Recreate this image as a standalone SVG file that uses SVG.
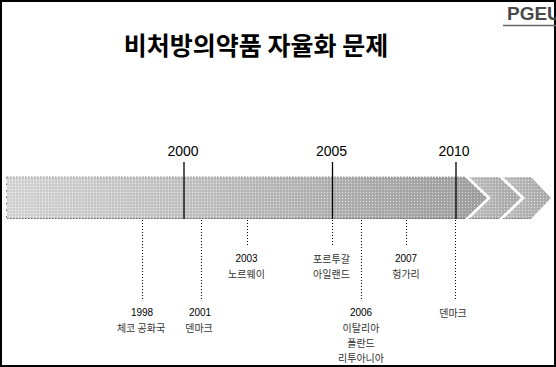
<svg xmlns="http://www.w3.org/2000/svg" width="556" height="367" viewBox="0 0 556 367">
<defs>
<linearGradient id="gMain" x1="0" y1="0" x2="1" y2="0">
<stop offset="0" stop-color="#d8d8d8"/>
<stop offset="0.35" stop-color="#c6c6c6"/>
<stop offset="1" stop-color="#a0a0a0"/>
</linearGradient>
<linearGradient id="gChev" x1="0" y1="0" x2="1" y2="0">
<stop offset="0" stop-color="#c2c2c2"/>
<stop offset="1" stop-color="#ababab"/>
</linearGradient>
<pattern id="dots" width="3" height="3" patternUnits="userSpaceOnUse">
<rect x="0" y="0" width="1" height="1" fill="#ffffff" fill-opacity="0.55"/>
<rect x="1.5" y="1.5" width="1" height="1" fill="#606060" fill-opacity="0.3"/>
</pattern>
<style>
.frame{fill:#fff;stroke:#000;stroke-width:2}
.title{font-family:"Noto Sans CJK KR","Noto Sans",sans-serif;font-weight:bold;font-size:25px;fill:#000;text-anchor:middle}
.logo{font-family:"Liberation Sans",Arial,sans-serif;font-weight:bold;font-size:19px;fill:#4a4a4a}
.year{font-family:"Liberation Sans",Arial,sans-serif;font-size:14px;fill:#000;text-anchor:middle}
.num{font-family:"Liberation Sans",Arial,sans-serif;font-size:10px;fill:#000;text-anchor:middle}
.kr{font-family:"Noto Sans CJK KR",sans-serif;font-size:10px;fill:#333;text-anchor:middle}
.tick{stroke:#000;stroke-width:1.3;fill:none}
.dot{stroke:#000;stroke-width:1;stroke-dasharray:1 2;fill:none}
.edge{fill:none;stroke:#8a8a8a;stroke-width:1;stroke-dasharray:1.5 1.5}
</style>
</defs>
<rect class="frame" x="1" y="1" width="554" height="365"/>
<g id="logo">
<text class="logo" x="507" y="20">PGEU</text>
<line x1="503" y1="25.5" x2="556" y2="25.5" stroke="#666" stroke-width="1.6"/>
</g>
<g id="title">
<text class="title" x="256" y="55">비처방의약품 자율화 문제</text>
</g>
<g id="bar">
<polygon points="7,177 465,177 487,198 465,219 7,219" fill="url(#gMain)"/>
<polygon points="7,177 465,177 487,198 465,219 7,219" fill="url(#dots)"/>
<polyline class="edge" points="7,177 465,177"/>
<polyline points="7,218.5 465,218.5" fill="none" stroke="#6a6a6a" stroke-width="1.2" stroke-dasharray="1.5 1.5"/>
<polyline points="6.5,177 6.5,219" fill="none" stroke="#6a6a6a" stroke-width="1" stroke-dasharray="1.5 5"/>
</g>
<g id="chevron1">
<polygon points="469,177 499,177 521,198 499,219 469,219 491,198" fill="url(#gChev)"/>
<polygon points="469,177 499,177 521,198 499,219 469,219 491,198" fill="url(#dots)"/>
<polyline points="469,218.5 499,218.5" fill="none" stroke="#777" stroke-width="1" stroke-dasharray="1.5 1.5"/>
</g>
<g id="chevron2">
<polygon points="503,177 531,177 551,198 531,219 503,219 525,198" fill="url(#gChev)"/>
<polygon points="503,177 531,177 551,198 531,219 503,219 525,198" fill="url(#dots)"/>
<polyline points="503,218.5 531,218.5" fill="none" stroke="#777" stroke-width="1" stroke-dasharray="1.5 1.5"/>
</g>
<g id="connectors">
<line class="tick" x1="184" y1="162" x2="184" y2="219"/>
<line class="tick" x1="332.5" y1="162" x2="332.5" y2="219"/>
<line class="tick" x1="456" y1="162" x2="456" y2="219"/>
<line class="dot" x1="142.5" y1="220" x2="142.5" y2="301"/>
<line class="dot" x1="201.5" y1="220" x2="201.5" y2="301"/>
<line class="dot" x1="247.5" y1="220" x2="247.5" y2="246"/>
<line class="dot" x1="332.5" y1="220" x2="332.5" y2="246"/>
<line class="dot" x1="361.5" y1="220" x2="361.5" y2="301"/>
<line class="dot" x1="406.5" y1="220" x2="406.5" y2="246"/>
<line class="dot" x1="455.5" y1="220" x2="455.5" y2="301"/>
</g>
<g id="y2000"><text class="year" x="183" y="156">2000</text></g>
<g id="y2005"><text class="year" x="331.5" y="156">2005</text></g>
<g id="y2010"><text class="year" x="454" y="156">2010</text></g>
<g id="e1998">
<text class="num" x="142" y="316">1998</text>
<text class="kr" x="141" y="332">체코 공화국</text>
</g>
<g id="e2001">
<text class="num" x="200" y="316">2001</text>
<text class="kr" x="199" y="332">덴마크</text>
</g>
<g id="e2003">
<text class="num" x="246.5" y="262">2003</text>
<text class="kr" x="246.5" y="278">노르웨이</text>
</g>
<g id="e2005">
<text class="kr" x="331.5" y="263">포르투갈</text>
<text class="kr" x="331.5" y="278">아일랜드</text>
</g>
<g id="e2006">
<text class="num" x="361" y="316">2006</text>
<text class="kr" x="361" y="332">이탈리아</text>
<text class="kr" x="361" y="347">폴란드</text>
<text class="kr" x="361" y="362">리투아니아</text>
</g>
<g id="e2007">
<text class="num" x="406" y="262">2007</text>
<text class="kr" x="406" y="278">헝가리</text>
</g>
<g id="e2010">
<text class="kr" x="453" y="317">덴마크</text>
</g>
</svg>
